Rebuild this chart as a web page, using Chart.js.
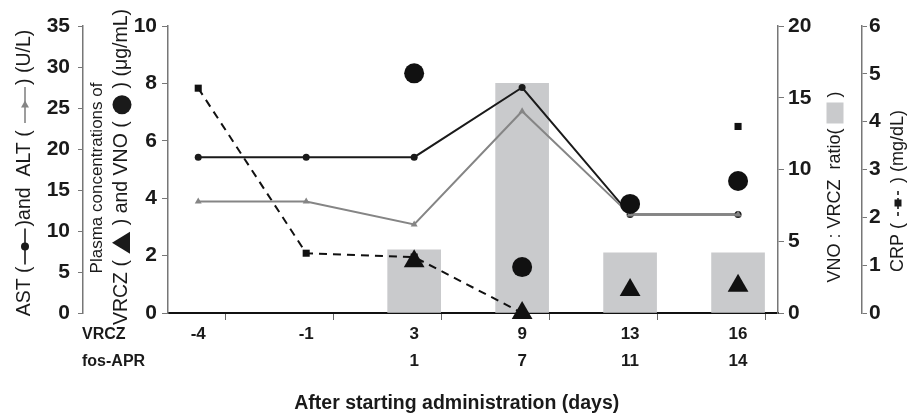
<!DOCTYPE html>
<html>
<head>
<meta charset="utf-8">
<script src="https://cdn.jsdelivr.net/npm/chart.js@4.4.0/dist/chart.umd.min.js"></script>
<style>
  html, body { margin: 0; padding: 0; background: #fff; }
</style>
</head>
<body>
<canvas id="chart" width="912" height="418"></canvas>
<script>
// days since start, per drug
const vrczDays = ['-4', '-1', '3', '9', '13', '16']
const fosAprDays = ['', '', '1', '7', '11', '14']

// AST / ALT (U/L)
const astValues = [19, 19, 19, 27.5, 12, 12]
const altValues = [13.6, 13.6, 10.8, 24.6, 12, 12]

// plasma concentrations (ug/mL)
const vrczConc = [null, null, 1.8, 0, 0.8, 0.95]
const vnoConc = [null, null, 8.35, 1.6, 3.8, 4.6]

// VNO : VRCZ ratio
const ratioValues = [null, null, 4.4, 16, 4.2, 4.2]

// CRP (mg/dL)
const crpValues = [4.7, 1.25, 1.17, 0, null, 3.9]

const FONT = "'Liberation Sans', Arial, sans-serif"
Chart.defaults.font.family = FONT
Chart.defaults.color = '#1a1a1a'

const INK = '#1a1a1a'
const ALT_GRAY = '#858585'
const BAR_GRAY = '#c9cacc'
const pts = (arr) => arr.map((v, i) => ({x: i, y: v}))

// row captions left of the x tick labels
const rowLabels = {
    id: 'rowLabels',
    afterDraw(chart){
        const xs = chart.scales.x
        const ctx = chart.ctx
        const y1 = xs.top + 8 + 13.5
        ctx.save()
        ctx.font = "bold 16px " + FONT
        ctx.fillStyle = INK
        ctx.textAlign = 'left'
        ctx.textBaseline = 'middle'
        ctx.fillText('VRCZ', 82, y1)
        ctx.fillText('fos-APR', 82, y1 + 27)
        ctx.restore()
    }
}

// little legend glyphs used inside the axis titles (drawn in the rotated frame)
const lineGlyph = (color, marker, dash, len) => ({
    w: len,
    draw(ctx, x){
        ctx.strokeStyle = color
        ctx.fillStyle = color
        ctx.lineWidth = 1.6
        ctx.setLineDash(dash || [])
        ctx.beginPath(); ctx.moveTo(x + 2, 0); ctx.lineTo(x + len - 2, 0); ctx.stroke()
        ctx.setLineDash([])
        const c = x + len / 2
        ctx.beginPath()
        if (marker === 'dot') ctx.arc(c, 0, 4, 0, Math.PI * 2)
        if (marker === 'tri') { ctx.moveTo(c + 4.5, 0); ctx.lineTo(c - 2.5, -4); ctx.lineTo(c - 2.5, 4); ctx.closePath() }
        if (marker === 'sq') ctx.rect(c - 3.5, -3.5, 7, 7)
        ctx.fill()
    }
})
const bigTri = {
    w: 24,
    draw(ctx, x){
        ctx.fillStyle = INK
        ctx.beginPath(); ctx.moveTo(x + 12, -10); ctx.lineTo(x + 23, 8); ctx.lineTo(x + 1, 8); ctx.closePath(); ctx.fill()
    }
}
const bigDot = {
    w: 22,
    draw(ctx, x){
        ctx.fillStyle = INK
        ctx.beginPath(); ctx.arc(x + 11, 0, 9.5, 0, Math.PI * 2); ctx.fill()
    }
}
const grayBox = {
    w: 21,
    draw(ctx, x){
        ctx.fillStyle = BAR_GRAY
        ctx.fillRect(x, -8.5, 21, 17)
    }
}

function drawRotated(ctx, cx, cy, size, parts){
    ctx.save()
    ctx.translate(cx, cy)
    ctx.rotate(-Math.PI / 2)
    ctx.font = size + "px " + FONT
    ctx.textBaseline = 'middle'
    ctx.textAlign = 'left'
    const widthOf = (p) => typeof p === 'string' ? ctx.measureText(p).width : p.w
    const total = parts.reduce((w, p) => w + widthOf(p), 0)
    let x = -total / 2
    parts.forEach(p => {
        if (typeof p === 'string') {
            ctx.fillStyle = INK
            ctx.fillText(p, x, 0)
        } else {
            ctx.save(); p.draw(ctx, x); ctx.restore()
        }
        x += widthOf(p)
    })
    ctx.restore()
}

const axisTitles = {
    id: 'axisTitles',
    afterDraw(chart){
        const ctx = chart.ctx
        drawRotated(ctx, 25, 173, 19.5, ['AST (', lineGlyph(INK, 'dot', null, 40), ')and  ALT ( ', lineGlyph(ALT_GRAY, 'tri', null, 40), ') (U/L)'])
        drawRotated(ctx, 97, 178, 17, ['Plasma concentrations of'])
        drawRotated(ctx, 122, 167, 19.5, ['VRCZ ( ', bigTri, ' ) and VNO ( ', bigDot, ' ) (μg/mL)'])
        drawRotated(ctx, 835, 187, 18, ['VNO : VRCZ  ratio( ', grayBox, ' )'])
        drawRotated(ctx, 898, 191, 18, ['CRP ( ', lineGlyph(INK, 'sq', [4, 3], 30), ' ) (mg/dL)'])
    }
}

const yTickFont = {size: 21, weight: 'bold'}
const yGrid = (len) => ({drawOnChartArea: false, tickLength: len, tickColor: '#777'})
const yBorder = {color: '#777', width: 1.5}

new Chart(document.getElementById('chart'), {
    data: {
        datasets: [
            {
                type: 'bar',
                label: 'VNO : VRCZ ratio',
                data: pts(ratioValues),
                yAxisID: 'yRatio',
                backgroundColor: BAR_GRAY,
                barThickness: 53,
                order: 10,
            },
            {
                type: 'line',
                label: 'CRP',
                data: pts(crpValues),
                yAxisID: 'yCrp',
                borderColor: '#111',
                borderWidth: 2,
                borderDash: [8, 6],
                pointStyle: 'rect',
                pointRadius: 5,
                pointBackgroundColor: '#111',
                pointBorderWidth: 0,
                spanGaps: false,
                clip: false,
                order: 4,
            },
            {
                type: 'line',
                label: 'AST',
                data: pts(astValues),
                yAxisID: 'yAst',
                borderColor: INK,
                borderWidth: 2,
                pointRadius: 3.5,
                pointBackgroundColor: INK,
                pointBorderWidth: 0,
                order: 3,
            },
            {
                type: 'line',
                label: 'ALT',
                data: pts(altValues),
                yAxisID: 'yAst',
                borderColor: ALT_GRAY,
                borderWidth: 2,
                pointStyle: 'triangle',
                pointRadius: 4,
                pointBackgroundColor: ALT_GRAY,
                pointBorderWidth: 0,
                order: 2,
            },
            {
                type: 'line',
                label: 'VRCZ',
                data: pts(vrczConc),
                yAxisID: 'yConc',
                showLine: false,
                pointStyle: 'triangle',
                pointRadius: 12,
                pointBackgroundColor: '#111',
                pointBorderWidth: 0,
                clip: false,
                order: 1,
            },
            {
                type: 'line',
                label: 'VNO',
                data: pts(vnoConc),
                yAxisID: 'yConc',
                showLine: false,
                pointStyle: 'circle',
                pointRadius: 10,
                pointBackgroundColor: '#111',
                pointBorderWidth: 0,
                clip: false,
                order: 1,
            },
        ]
    },
    options: {
        responsive: false,
        animation: false,
        layout: {padding: {top: 26, left: 0, right: 0, bottom: 0}},
        plugins: {legend: {display: false}, tooltip: {enabled: false}},
        scales: {
            x: {
                type: 'linear',
                position: 'bottom',
                offset: false,
                min: -0.28,
                max: 5.37,
                afterBuildTicks: (s) => {
                    s.ticks = [0, 0.5, 1, 1.5, 2, 2.5, 3, 3.5, 4, 4.5, 5].map(v => ({value: v}))
                },
                afterFit: (s) => { s.height = 105 },
                ticks: {
                    autoSkip: false,
                    maxRotation: 0,
                    padding: 1,
                    font: {size: 17, weight: 'bold', lineHeight: 27 / 17},
                    color: INK,
                    callback: (v) => Number.isInteger(v) ? [vrczDays[v], fosAprDays[v]] : '',
                },
                grid: {
                    drawOnChartArea: false,
                    tickLength: 7,
                    tickColor: (ctx) => (ctx.tick && Number.isInteger(ctx.tick.value)) ? 'rgba(0,0,0,0)' : '#666',
                },
                border: {color: '#111', width: 2},
                title: {
                    display: true,
                    // trailing spaces nudge the centred title a little left, as in the source
                    text: 'After starting administration (days)      ',
                    font: {size: 19.5, weight: 'bold'},
                    color: INK,
                    padding: {top: 0, bottom: 3},
                },
            },
            yAst: {
                position: 'left',
                weight: 1,
                min: 0,
                max: 35,
                afterFit: (s) => { s.width = 83 },
                ticks: {stepSize: 5, padding: 8, font: yTickFont, color: INK},
                grid: yGrid(5),
                border: yBorder,
            },
            yConc: {
                position: 'left',
                weight: 0,
                min: 0,
                max: 10,
                afterFit: (s) => { s.width = 85 },
                ticks: {stepSize: 2, padding: 5, font: yTickFont, color: INK},
                grid: yGrid(6),
                border: yBorder,
            },
            yRatio: {
                position: 'right',
                weight: 0,
                min: 0,
                max: 20,
                afterFit: (s) => { s.width = 84 },
                ticks: {stepSize: 5, padding: 4, font: yTickFont, color: INK},
                grid: yGrid(6),
                border: yBorder,
            },
            yCrp: {
                position: 'right',
                weight: 1,
                min: 0,
                max: 6,
                afterFit: (s) => { s.width = 50 },
                ticks: {stepSize: 1, padding: 2, font: yTickFont, color: INK},
                grid: yGrid(5),
                border: yBorder,
            },
        },
    },
    plugins: [rowLabels, axisTitles],
})
</script>
</body>
</html>
